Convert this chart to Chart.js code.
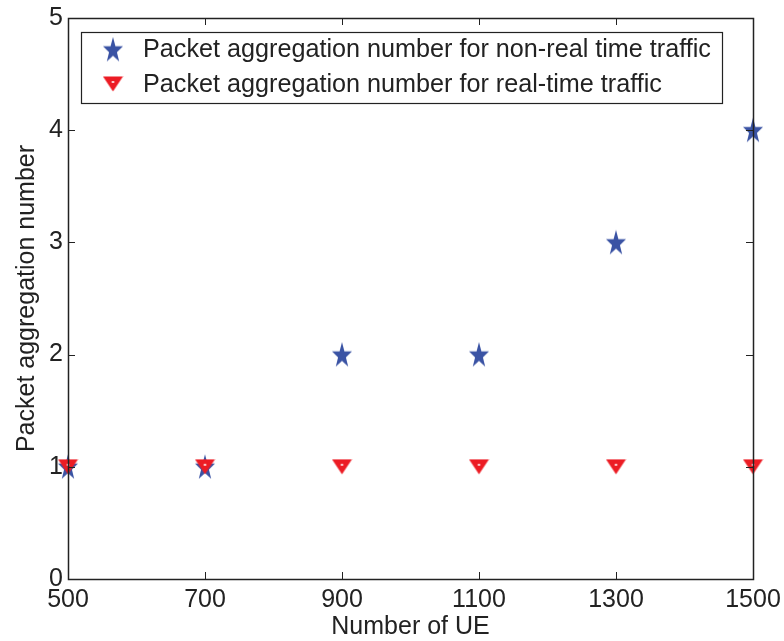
<!DOCTYPE html>
<html>
<head>
<meta charset="utf-8">
<script src="https://cdn.jsdelivr.net/npm/chart.js@4.4.0/dist/chart.umd.min.js"></script>
<style>
  html, body { margin: 0; padding: 0; background: #fff; }
</style>
</head>
<body>
<canvas id="chart" width="784" height="641"></canvas>
<script>
// data
const ueCounts = [500, 700, 900, 1100, 1300, 1500];
const nonRealTime = [1, 1, 2, 2, 3, 4];
const realTime = [1, 1, 1, 1, 1, 1];
const xTicks = [500, 700, 900, 1100, 1300, 1500];
const yTicks = [0, 1, 2, 3, 4, 5];
const seriesLabels = [
    'Packet aggregation number for non-real time traffic',
    'Packet aggregation number for real-time traffic',
];
const xTitle = 'Number of UE';
const yTitle = 'Packet aggregation number';

const BLUE = '#3a53a4';
const RED = '#ec1c24';
const TEXT = '#222';
const FONT = '"Liberation Sans", Arial, sans-serif';

// marker sprites (filled pentagram and down triangle with a white dot)
function makeStar() {
    const c = document.createElement('canvas');
    c.width = 22; c.height = 26;
    const g = c.getContext('2d');
    g.translate(11, 14);
    g.scale(0.78, 1);
    g.beginPath();
    for (let i = 0; i < 10; i++) {
        const r = i % 2 === 0 ? 13.5 : 5.3;
        const a = -Math.PI / 2 + i * Math.PI / 5;
        g.lineTo(r * Math.cos(a), r * Math.sin(a));
    }
    g.closePath();
    g.fillStyle = BLUE;
    g.fill();
    return c;
}

function makeTriangle() {
    const c = document.createElement('canvas');
    c.width = 21; c.height = 16;
    const g = c.getContext('2d');
    g.beginPath();
    g.moveTo(0.5, 0.5);
    g.lineTo(20.5, 0.5);
    g.lineTo(10.5, 15.5);
    g.closePath();
    g.fillStyle = RED;
    g.fill();
    g.fillStyle = '#fff';
    g.fillRect(9.5, 5, 2, 2);
    return c;
}

const starImg = makeStar();
const triImg = makeTriangle();

// frame, inward ticks, axis titles and the boxed legend
const matlabAxes = {
    id: 'matlabAxes',
    afterDatasetsDraw(chart) {
        const { ctx, chartArea: a, scales } = chart;
        ctx.save();
        ctx.strokeStyle = '#222';
        ctx.lineWidth = 1;
        ctx.beginPath();
        xTicks.forEach(v => {
            const x = Math.round(scales.x.getPixelForValue(v)) + 0.5;
            ctx.moveTo(x, a.bottom); ctx.lineTo(x, a.bottom - 7);
            ctx.moveTo(x, a.top); ctx.lineTo(x, a.top + 7);
        });
        yTicks.forEach(v => {
            const y = Math.round(scales.y.getPixelForValue(v)) + 0.5;
            ctx.moveTo(a.left, y); ctx.lineTo(a.left + 7, y);
            ctx.moveTo(a.right, y); ctx.lineTo(a.right - 7, y);
        });
        ctx.stroke();
        ctx.lineWidth = 1.5;
        ctx.strokeRect(a.left + 0.5, a.top + 0.5, a.right - a.left, a.bottom - a.top);

        // axis titles
        ctx.fillStyle = TEXT;
        ctx.font = '25px ' + FONT;
        ctx.textAlign = 'center';
        ctx.textBaseline = 'middle';
        ctx.fillText(xTitle, (a.left + a.right) / 2, 627);
        ctx.save();
        ctx.translate(27, (a.top + a.bottom) / 2);
        ctx.rotate(-Math.PI / 2);
        ctx.fillText(yTitle, 0, 0);
        ctx.restore();

        // legend box
        const lx = 81, ly = 32, lw = 641, lh = 71;
        ctx.fillStyle = '#fff';
        ctx.fillRect(lx, ly, lw, lh);
        ctx.lineWidth = 1.2;
        ctx.strokeRect(lx + 0.5, ly + 0.5, lw, lh);
        const rows = [ly + 17.5, ly + 52];
        ctx.drawImage(starImg, 113 - starImg.width / 2, rows[0] - starImg.height / 2);
        ctx.drawImage(triImg, 113 - triImg.width / 2, rows[1] - triImg.height / 2);
        ctx.fillStyle = TEXT;
        ctx.font = '25.2px ' + FONT;
        ctx.textAlign = 'left';
        seriesLabels.forEach((t, i) => ctx.fillText(t, 143, rows[i] + 1));
        ctx.restore();
    },
};

const ctx = document.getElementById('chart').getContext('2d');
new Chart(ctx, {
    type: 'scatter',
    data: {
        datasets: [
            {
                label: seriesLabels[0],
                data: ueCounts.map((x, i) => ({ x, y: nonRealTime[i] })),
                pointStyle: starImg,
                order: 2,
                clip: false,
            },
            {
                label: seriesLabels[1],
                data: ueCounts.map((x, i) => ({ x, y: realTime[i] })),
                pointStyle: triImg,
                order: 1,
                clip: false,
            },
        ],
    },
    options: {
        responsive: false,
        animation: false,
        layout: { padding: { top: 18, right: 31, left: 0, bottom: 0 } },
        plugins: {
            legend: { display: false },
            tooltip: { enabled: false },
        },
        scales: {
            x: {
                type: 'linear',
                min: 500,
                max: 1500,
                afterBuildTicks: s => { s.ticks = xTicks.map(v => ({ value: v })); },
                afterFit: s => { s.height = 62; s.paddingLeft = 0; s.paddingRight = 0; },
                ticks: {
                    color: TEXT,
                    font: { family: FONT, size: 25 },
                    padding: 6,
                    maxRotation: 0,
                    autoSkip: false,
                    callback: v => String(v),
                },
                grid: { display: false, drawTicks: false },
                border: { display: false },
            },
            y: {
                min: 0,
                max: 5,
                afterBuildTicks: s => { s.ticks = yTicks.map(v => ({ value: v })); },
                afterFit: s => { s.width = 68; s.paddingTop = 0; s.paddingBottom = 0; },
                ticks: {
                    color: TEXT,
                    font: { family: FONT, size: 25 },
                    padding: 5,
                    callback: v => String(v),
                },
                grid: { display: false, drawTicks: false },
                border: { display: false },
            },
        },
    },
    plugins: [matlabAxes],
});
</script>
</body>
</html>
